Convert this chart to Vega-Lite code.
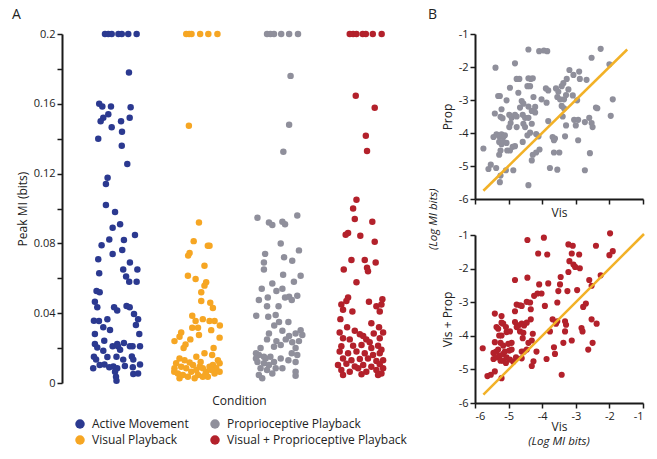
{
"$schema": "https://vega.github.io/schema/vega-lite/v6.json",
"autosize": {"type": "pad"},
"padding": {"left": 12, "top": 8, "right": 5, "bottom": 5},
"config": {
  "font": "Open Sans",
  "view": {"stroke": null},
  "axis": {"grid": false, "domainColor": "#1a1a1a", "domainWidth": 2, "tickColor": "#1a1a1a", "tickWidth": 1.5, "tickSize": 5, "labelFont": "Open Sans", "labelFontSize": 11, "labelColor": "#222", "titleFont": "Open Sans", "titleFontSize": 12, "titleFontWeight": "normal", "titleColor": "#222"},
  "title": {"font": "Open Sans", "fontWeight": "normal", "fontSize": 14, "color": "#222"}
},
"datasets": {
"strip": [
{"condition":"Active Movement","mi":0.2,"jitter":-0.48},{"condition":"Active Movement","mi":0.2,"jitter":-0.34},{"condition":"Active Movement","mi":0.2,"jitter":-0.2},{"condition":"Active Movement","mi":0.2,"jitter":0.08},{"condition":"Active Movement","mi":0.2,"jitter":0.22},{"condition":"Active Movement","mi":0.2,"jitter":0.49},{"condition":"Active Movement","mi":0.2,"jitter":0.84},
{"condition":"Active Movement","mi":0.178,"jitter":0.52},{"condition":"Active Movement","mi":0.160,"jitter":-0.72},{"condition":"Active Movement","mi":0.1585,"jitter":-0.59},{"condition":"Active Movement","mi":0.1585,"jitter":-0.23},{"condition":"Active Movement","mi":0.158,"jitter":0.59},{"condition":"Active Movement","mi":0.154,"jitter":-0.34},{"condition":"Active Movement","mi":0.152,"jitter":-0.55},{"condition":"Active Movement","mi":0.150,"jitter":-0.66},{"condition":"Active Movement","mi":0.150,"jitter":0.19},{"condition":"Active Movement","mi":0.152,"jitter":0.55},{"condition":"Active Movement","mi":0.1465,"jitter":-0.2},{"condition":"Active Movement","mi":0.144,"jitter":0.23},{"condition":"Active Movement","mi":0.140,"jitter":-0.76},{"condition":"Active Movement","mi":0.136,"jitter":0.22},{"condition":"Active Movement","mi":0.1255,"jitter":0.45},{"condition":"Active Movement","mi":0.1176,"jitter":-0.37},{"condition":"Active Movement","mi":0.114,"jitter":-0.44},{"condition":"Active Movement","mi":0.102,"jitter":-0.44},{"condition":"Active Movement","mi":0.098,"jitter":-0.06},{"condition":"Active Movement","mi":0.091,"jitter":0.15},{"condition":"Active Movement","mi":0.089,"jitter":-0.16},
{"condition":"Active Movement","mi":0.079,"jitter":-0.62},{"condition":"Active Movement","mi":0.0823,"jitter":-0.3},{"condition":"Active Movement","mi":0.082,"jitter":0.31},{"condition":"Active Movement","mi":0.0848,"jitter":0.77},{"condition":"Active Movement","mi":0.0739,"jitter":-0.16},{"condition":"Active Movement","mi":0.0762,"jitter":0.24},{"condition":"Active Movement","mi":0.0709,"jitter":-0.76},{"condition":"Active Movement","mi":0.069,"jitter":0.56},{"condition":"Active Movement","mi":0.0629,"jitter":-0.72},{"condition":"Active Movement","mi":0.065,"jitter":0.28},{"condition":"Active Movement","mi":0.065,"jitter":0.87},{"condition":"Active Movement","mi":0.061,"jitter":0.4},{"condition":"Active Movement","mi":0.058,"jitter":0.53},{"condition":"Active Movement","mi":0.058,"jitter":0.84},{"condition":"Active Movement","mi":0.0527,"jitter":-0.83},{"condition":"Active Movement","mi":0.052,"jitter":-0.7},{"condition":"Active Movement","mi":0.0466,"jitter":-0.9},{"condition":"Active Movement","mi":0.0434,"jitter":-0.8},{"condition":"Active Movement","mi":0.0434,"jitter":-0.1},{"condition":"Active Movement","mi":0.0415,"jitter":0.03},{"condition":"Active Movement","mi":0.0441,"jitter":0.42},{"condition":"Active Movement","mi":0.0434,"jitter":0.55},{"condition":"Active Movement","mi":0.0395,"jitter":0.73},{"condition":"Active Movement","mi":0.0357,"jitter":-0.94},{"condition":"Active Movement","mi":0.0355,"jitter":-0.73},{"condition":"Active Movement","mi":0.0365,"jitter":-0.38},{"condition":"Active Movement","mi":0.0319,"jitter":-0.55},{"condition":"Active Movement","mi":0.0304,"jitter":-0.27},{"condition":"Active Movement","mi":0.0365,"jitter":0.9},{"condition":"Active Movement","mi":0.0332,"jitter":0.81},{"condition":"Active Movement","mi":0.0281,"jitter":-0.9},{"condition":"Active Movement","mi":0.0281,"jitter":0.95},{"condition":"Active Movement","mi":0.0242,"jitter":-0.51},{"condition":"Active Movement","mi":0.0223,"jitter":0.03},{"condition":"Active Movement","mi":0.0229,"jitter":0.31},{"condition":"Active Movement","mi":0.0223,"jitter":-0.9},{"condition":"Active Movement","mi":0.0204,"jitter":-0.8},{"condition":"Active Movement","mi":0.021,"jitter":-0.16},{"condition":"Active Movement","mi":0.021,"jitter":0.06},{"condition":"Active Movement","mi":0.019,"jitter":0.15},{"condition":"Active Movement","mi":0.021,"jitter":0.56},{"condition":"Active Movement","mi":0.021,"jitter":0.67},{"condition":"Active Movement","mi":0.021,"jitter":0.98},{"condition":"Active Movement","mi":0.0185,"jitter":-0.55},{"condition":"Active Movement","mi":0.015,"jitter":-0.94},{"condition":"Active Movement","mi":0.0149,"jitter":-0.38},{"condition":"Active Movement","mi":0.015,"jitter":0.0},{"condition":"Active Movement","mi":0.0152,"jitter":0.64},{"condition":"Active Movement","mi":0.0135,"jitter":-0.85},{"condition":"Active Movement","mi":0.0134,"jitter":0.28},{"condition":"Active Movement","mi":0.0134,"jitter":0.7},{"condition":"Active Movement","mi":0.0103,"jitter":-0.7},{"condition":"Active Movement","mi":0.0106,"jitter":-0.5},{"condition":"Active Movement","mi":0.0094,"jitter":-0.13},{"condition":"Active Movement","mi":0.0085,"jitter":0.03},{"condition":"Active Movement","mi":0.0097,"jitter":0.35},{"condition":"Active Movement","mi":0.0106,"jitter":0.98},{"condition":"Active Movement","mi":0.0085,"jitter":-0.97},{"condition":"Active Movement","mi":0.0065,"jitter":-0.06},{"condition":"Active Movement","mi":0.0052,"jitter":0.7},{"condition":"Active Movement","mi":0.0055,"jitter":0.9},{"condition":"Active Movement","mi":0.0036,"jitter":-0.02},{"condition":"Active Movement","mi":0.0013,"jitter":0.0},{"condition":"Active Movement","mi":0.009,"jitter":-0.3},{"condition":"Active Movement","mi":0.009,"jitter":0.68},
{"condition":"Visual Playback","mi":0.2,"jitter":-0.5},{"condition":"Visual Playback","mi":0.2,"jitter":-0.38},{"condition":"Visual Playback","mi":0.2,"jitter":-0.28},{"condition":"Visual Playback","mi":0.2,"jitter":0.08},{"condition":"Visual Playback","mi":0.2,"jitter":0.42},{"condition":"Visual Playback","mi":0.2,"jitter":0.8},
{"condition":"Visual Playback","mi":0.1474,"jitter":-0.39},{"condition":"Visual Playback","mi":0.092,"jitter":0.03},{"condition":"Visual Playback","mi":0.0813,"jitter":-0.19},{"condition":"Visual Playback","mi":0.0787,"jitter":0.4},{"condition":"Visual Playback","mi":0.0787,"jitter":0.47},{"condition":"Visual Playback","mi":0.0745,"jitter":-0.36},{"condition":"Visual Playback","mi":0.073,"jitter":-0.42},{"condition":"Visual Playback","mi":0.0672,"jitter":0.26},{"condition":"Visual Playback","mi":0.0615,"jitter":-0.43},{"condition":"Visual Playback","mi":0.0596,"jitter":-0.11},{"condition":"Visual Playback","mi":0.0577,"jitter":0.33},{"condition":"Visual Playback","mi":0.0558,"jitter":0.26},{"condition":"Visual Playback","mi":0.052,"jitter":0.125},{"condition":"Visual Playback","mi":0.047,"jitter":0.125},{"condition":"Visual Playback","mi":0.046,"jitter":0.5},{"condition":"Visual Playback","mi":0.043,"jitter":0.61},{"condition":"Visual Playback","mi":0.0385,"jitter":-0.25},{"condition":"Visual Playback","mi":0.0355,"jitter":-0.11},{"condition":"Visual Playback","mi":0.0366,"jitter":0.19},{"condition":"Visual Playback","mi":0.0355,"jitter":0.47},{"condition":"Visual Playback","mi":0.0355,"jitter":0.68},{"condition":"Visual Playback","mi":0.033,"jitter":0.9},{"condition":"Visual Playback","mi":0.0317,"jitter":-0.25},{"condition":"Visual Playback","mi":0.0317,"jitter":-0.01},{"condition":"Visual Playback","mi":0.0303,"jitter":0.54},{"condition":"Visual Playback","mi":0.029,"jitter":-0.71},{"condition":"Visual Playback","mi":0.0265,"jitter":-0.78},{"condition":"Visual Playback","mi":0.0275,"jitter":0.03},{"condition":"Visual Playback","mi":0.026,"jitter":0.89},{"condition":"Visual Playback","mi":0.025,"jitter":-0.33},{"condition":"Visual Playback","mi":0.022,"jitter":-0.53},{"condition":"Visual Playback","mi":0.024,"jitter":-0.99},{"condition":"Visual Playback","mi":0.020,"jitter":-0.61},{"condition":"Visual Playback","mi":0.020,"jitter":0.64},{"condition":"Visual Playback","mi":0.017,"jitter":0.26},{"condition":"Visual Playback","mi":0.016,"jitter":0.58},{"condition":"Visual Playback","mi":0.015,"jitter":-0.08},
{"condition":"Visual Playback","mi":0.014,"jitter":-0.78},{"condition":"Visual Playback","mi":0.013,"jitter":-0.57},{"condition":"Visual Playback","mi":0.0113,"jitter":-0.92},{"condition":"Visual Playback","mi":0.0118,"jitter":-0.36},{"condition":"Visual Playback","mi":0.0093,"jitter":-0.71},{"condition":"Visual Playback","mi":0.0084,"jitter":-0.99},{"condition":"Visual Playback","mi":0.0084,"jitter":-0.5},{"condition":"Visual Playback","mi":0.0103,"jitter":-0.22},{"condition":"Visual Playback","mi":0.0055,"jitter":-0.85},{"condition":"Visual Playback","mi":0.0046,"jitter":-0.64},{"condition":"Visual Playback","mi":0.0065,"jitter":-0.29},{"condition":"Visual Playback","mi":0.0074,"jitter":-0.08},{"condition":"Visual Playback","mi":0.0093,"jitter":0.06},{"condition":"Visual Playback","mi":0.0084,"jitter":0.19},{"condition":"Visual Playback","mi":0.0065,"jitter":0.33},{"condition":"Visual Playback","mi":0.0093,"jitter":0.47},{"condition":"Visual Playback","mi":0.0103,"jitter":0.61},{"condition":"Visual Playback","mi":0.0084,"jitter":0.75},{"condition":"Visual Playback","mi":0.0113,"jitter":0.89},{"condition":"Visual Playback","mi":0.0046,"jitter":-0.01},{"condition":"Visual Playback","mi":0.0036,"jitter":0.19},{"condition":"Visual Playback","mi":0.0036,"jitter":0.4},{"condition":"Visual Playback","mi":0.0055,"jitter":0.68},{"condition":"Visual Playback","mi":0.0065,"jitter":0.89},{"condition":"Visual Playback","mi":0.0036,"jitter":-0.43},{"condition":"Visual Playback","mi":0.0027,"jitter":-0.78},{"condition":"Visual Playback","mi":0.0027,"jitter":-0.15},{"condition":"Visual Playback","mi":0.013,"jitter":0.82},{"condition":"Visual Playback","mi":0.0065,"jitter":-1.0},{"condition":"Visual Playback","mi":0.012,"jitter":0.1},{"condition":"Visual Playback","mi":0.0075,"jitter":0.55},{"condition":"Visual Playback","mi":0.005,"jitter":0.3},
{"condition":"Proprioceptive Playback","mi":0.2,"jitter":-0.54},{"condition":"Proprioceptive Playback","mi":0.2,"jitter":-0.4},{"condition":"Proprioceptive Playback","mi":0.2,"jitter":-0.25},{"condition":"Proprioceptive Playback","mi":0.2,"jitter":0.05},{"condition":"Proprioceptive Playback","mi":0.2,"jitter":0.38},{"condition":"Proprioceptive Playback","mi":0.2,"jitter":0.75},
{"condition":"Proprioceptive Playback","mi":0.176,"jitter":0.44},{"condition":"Proprioceptive Playback","mi":0.148,"jitter":0.38},{"condition":"Proprioceptive Playback","mi":0.1325,"jitter":0.14},{"condition":"Proprioceptive Playback","mi":0.0947,"jitter":-0.94},{"condition":"Proprioceptive Playback","mi":0.092,"jitter":-0.46},{"condition":"Proprioceptive Playback","mi":0.0905,"jitter":-0.32},{"condition":"Proprioceptive Playback","mi":0.0924,"jitter":0.1},{"condition":"Proprioceptive Playback","mi":0.091,"jitter":0.21},{"condition":"Proprioceptive Playback","mi":0.096,"jitter":0.72},{"condition":"Proprioceptive Playback","mi":0.080,"jitter":0.03},{"condition":"Proprioceptive Playback","mi":0.074,"jitter":-0.62},{"condition":"Proprioceptive Playback","mi":0.076,"jitter":0.79},{"condition":"Proprioceptive Playback","mi":0.072,"jitter":0.17},{"condition":"Proprioceptive Playback","mi":0.070,"jitter":0.51},{"condition":"Proprioceptive Playback","mi":0.069,"jitter":-0.67},{"condition":"Proprioceptive Playback","mi":0.065,"jitter":-0.67},{"condition":"Proprioceptive Playback","mi":0.062,"jitter":0.13},{"condition":"Proprioceptive Playback","mi":0.0615,"jitter":0.86},{"condition":"Proprioceptive Playback","mi":0.058,"jitter":0.58},{"condition":"Proprioceptive Playback","mi":0.057,"jitter":-0.32},{"condition":"Proprioceptive Playback","mi":0.054,"jitter":-0.76},{"condition":"Proprioceptive Playback","mi":0.0527,"jitter":-0.15},{"condition":"Proprioceptive Playback","mi":0.054,"jitter":0.1},{"condition":"Proprioceptive Playback","mi":0.0475,"jitter":-0.88},{"condition":"Proprioceptive Playback","mi":0.049,"jitter":-0.51},{"condition":"Proprioceptive Playback","mi":0.049,"jitter":0.21},{"condition":"Proprioceptive Playback","mi":0.0494,"jitter":0.38},{"condition":"Proprioceptive Playback","mi":0.0475,"jitter":0.49},{"condition":"Proprioceptive Playback","mi":0.050,"jitter":0.72},{"condition":"Proprioceptive Playback","mi":0.044,"jitter":-0.54},{"condition":"Proprioceptive Playback","mi":0.044,"jitter":-0.06},{"condition":"Proprioceptive Playback","mi":0.0385,"jitter":-0.99},{"condition":"Proprioceptive Playback","mi":0.038,"jitter":-0.49},{"condition":"Proprioceptive Playback","mi":0.039,"jitter":-0.18},{"condition":"Proprioceptive Playback","mi":0.035,"jitter":-0.04},{"condition":"Proprioceptive Playback","mi":0.035,"jitter":0.35},{"condition":"Proprioceptive Playback","mi":0.033,"jitter":-0.24},{"condition":"Proprioceptive Playback","mi":0.0303,"jitter":0.86},{"condition":"Proprioceptive Playback","mi":0.0284,"jitter":0.65},{"condition":"Proprioceptive Playback","mi":0.0275,"jitter":0.93},{"condition":"Proprioceptive Playback","mi":0.0284,"jitter":-0.46},{"condition":"Proprioceptive Playback","mi":0.030,"jitter":0.1},{"condition":"Proprioceptive Playback","mi":0.027,"jitter":0.38},{"condition":"Proprioceptive Playback","mi":0.025,"jitter":-0.54},{"condition":"Proprioceptive Playback","mi":0.024,"jitter":-0.15},{"condition":"Proprioceptive Playback","mi":0.025,"jitter":0.24},{"condition":"Proprioceptive Playback","mi":0.0233,"jitter":0.51},{"condition":"Proprioceptive Playback","mi":0.024,"jitter":0.79},{"condition":"Proprioceptive Playback","mi":0.020,"jitter":-0.81},{"condition":"Proprioceptive Playback","mi":0.0208,"jitter":-0.25},{"condition":"Proprioceptive Playback","mi":0.0218,"jitter":0.03},{"condition":"Proprioceptive Playback","mi":0.017,"jitter":0.49},{"condition":"Proprioceptive Playback","mi":0.016,"jitter":0.72},{"condition":"Proprioceptive Playback","mi":0.020,"jitter":0.65},{"condition":"Proprioceptive Playback","mi":0.017,"jitter":-1.0},{"condition":"Proprioceptive Playback","mi":0.016,"jitter":-0.88},{"condition":"Proprioceptive Playback","mi":0.014,"jitter":-1.0},{"condition":"Proprioceptive Playback","mi":0.015,"jitter":-0.67},{"condition":"Proprioceptive Playback","mi":0.014,"jitter":0.03},{"condition":"Proprioceptive Playback","mi":0.0131,"jitter":0.35},{"condition":"Proprioceptive Playback","mi":0.012,"jitter":0.65},{"condition":"Proprioceptive Playback","mi":0.012,"jitter":-0.94},{"condition":"Proprioceptive Playback","mi":0.0113,"jitter":-0.67},{"condition":"Proprioceptive Playback","mi":0.0103,"jitter":-0.46},{"condition":"Proprioceptive Playback","mi":0.012,"jitter":-0.25},{"condition":"Proprioceptive Playback","mi":0.0084,"jitter":-0.81},{"condition":"Proprioceptive Playback","mi":0.0074,"jitter":-0.54},{"condition":"Proprioceptive Playback","mi":0.0084,"jitter":-0.18},{"condition":"Proprioceptive Playback","mi":0.0084,"jitter":0.1},{"condition":"Proprioceptive Playback","mi":0.0065,"jitter":0.65},{"condition":"Proprioceptive Playback","mi":0.0042,"jitter":0.65},{"condition":"Proprioceptive Playback","mi":0.0046,"jitter":-0.88},{"condition":"Proprioceptive Playback","mi":0.0027,"jitter":-0.74},{"condition":"Proprioceptive Playback","mi":0.0055,"jitter":-0.32},{"condition":"Proprioceptive Playback","mi":0.014,"jitter":-0.6},{"condition":"Proprioceptive Playback","mi":0.015,"jitter":-0.4},
{"condition":"Visual + Proprioceptive Playback","mi":0.2,"jitter":-0.5},{"condition":"Visual + Proprioceptive Playback","mi":0.2,"jitter":-0.36},{"condition":"Visual + Proprioceptive Playback","mi":0.2,"jitter":-0.22},{"condition":"Visual + Proprioceptive Playback","mi":0.2,"jitter":0.04},{"condition":"Visual + Proprioceptive Playback","mi":0.2,"jitter":0.17},{"condition":"Visual + Proprioceptive Playback","mi":0.2,"jitter":0.46},{"condition":"Visual + Proprioceptive Playback","mi":0.2,"jitter":0.83},
{"condition":"Visual + Proprioceptive Playback","mi":0.1646,"jitter":-0.25},{"condition":"Visual + Proprioceptive Playback","mi":0.1577,"jitter":0.54},{"condition":"Visual + Proprioceptive Playback","mi":0.1417,"jitter":0.17},{"condition":"Visual + Proprioceptive Playback","mi":0.133,"jitter":0.22},{"condition":"Visual + Proprioceptive Playback","mi":0.105,"jitter":-0.22},{"condition":"Visual + Proprioceptive Playback","mi":0.1,"jitter":-0.36},{"condition":"Visual + Proprioceptive Playback","mi":0.094,"jitter":-0.29},{"condition":"Visual + Proprioceptive Playback","mi":0.0924,"jitter":0.44},{"condition":"Visual + Proprioceptive Playback","mi":0.086,"jitter":-0.57},{"condition":"Visual + Proprioceptive Playback","mi":0.085,"jitter":-0.67},{"condition":"Visual + Proprioceptive Playback","mi":0.0844,"jitter":-0.06},{"condition":"Visual + Proprioceptive Playback","mi":0.081,"jitter":0.54},{"condition":"Visual + Proprioceptive Playback","mi":0.0705,"jitter":-0.43},{"condition":"Visual + Proprioceptive Playback","mi":0.0705,"jitter":0.125},{"condition":"Visual + Proprioceptive Playback","mi":0.069,"jitter":0.58},{"condition":"Visual + Proprioceptive Playback","mi":0.065,"jitter":-0.75},{"condition":"Visual + Proprioceptive Playback","mi":0.066,"jitter":0.22},{"condition":"Visual + Proprioceptive Playback","mi":0.064,"jitter":0.26},{"condition":"Visual + Proprioceptive Playback","mi":0.0577,"jitter":-0.22},{"condition":"Visual + Proprioceptive Playback","mi":0.049,"jitter":-0.57},{"condition":"Visual + Proprioceptive Playback","mi":0.047,"jitter":-0.64},{"condition":"Visual + Proprioceptive Playback","mi":0.045,"jitter":-0.85},{"condition":"Visual + Proprioceptive Playback","mi":0.0466,"jitter":0.3},{"condition":"Visual + Proprioceptive Playback","mi":0.048,"jitter":0.86},{"condition":"Visual + Proprioceptive Playback","mi":0.044,"jitter":0.61},{"condition":"Visual + Proprioceptive Playback","mi":0.045,"jitter":0.82},{"condition":"Visual + Proprioceptive Playback","mi":0.041,"jitter":0.75},{"condition":"Visual + Proprioceptive Playback","mi":0.042,"jitter":-0.78},{"condition":"Visual + Proprioceptive Playback","mi":0.041,"jitter":-0.39},{"condition":"Visual + Proprioceptive Playback","mi":0.0366,"jitter":-0.89},{"condition":"Visual + Proprioceptive Playback","mi":0.0342,"jitter":0.4},{"condition":"Visual + Proprioceptive Playback","mi":0.032,"jitter":0.72},{"condition":"Visual + Proprioceptive Playback","mi":0.029,"jitter":0.89},{"condition":"Visual + Proprioceptive Playback","mi":0.032,"jitter":-0.61},{"condition":"Visual + Proprioceptive Playback","mi":0.029,"jitter":-0.92},{"condition":"Visual + Proprioceptive Playback","mi":0.030,"jitter":-0.29},{"condition":"Visual + Proprioceptive Playback","mi":0.028,"jitter":-0.08},{"condition":"Visual + Proprioceptive Playback","mi":0.027,"jitter":0.06},{"condition":"Visual + Proprioceptive Playback","mi":0.0284,"jitter":0.5},{"condition":"Visual + Proprioceptive Playback","mi":0.0256,"jitter":-0.78},{"condition":"Visual + Proprioceptive Playback","mi":0.025,"jitter":-0.5},{"condition":"Visual + Proprioceptive Playback","mi":0.025,"jitter":0.19},{"condition":"Visual + Proprioceptive Playback","mi":0.0233,"jitter":0.33},{"condition":"Visual + Proprioceptive Playback","mi":0.0256,"jitter":0.75},{"condition":"Visual + Proprioceptive Playback","mi":0.021,"jitter":-0.85},{"condition":"Visual + Proprioceptive Playback","mi":0.0214,"jitter":-0.36},{"condition":"Visual + Proprioceptive Playback","mi":0.0218,"jitter":-0.01},{"condition":"Visual + Proprioceptive Playback","mi":0.020,"jitter":0.4},{"condition":"Visual + Proprioceptive Playback","mi":0.0214,"jitter":0.68},{"condition":"Visual + Proprioceptive Playback","mi":0.019,"jitter":0.82},
{"condition":"Visual + Proprioceptive Playback","mi":0.018,"jitter":-0.92},{"condition":"Visual + Proprioceptive Playback","mi":0.017,"jitter":-0.57},{"condition":"Visual + Proprioceptive Playback","mi":0.018,"jitter":-0.22},{"condition":"Visual + Proprioceptive Playback","mi":0.017,"jitter":0.125},{"condition":"Visual + Proprioceptive Playback","mi":0.016,"jitter":0.47},{"condition":"Visual + Proprioceptive Playback","mi":0.017,"jitter":0.75},
{"condition":"Visual + Proprioceptive Playback","mi":0.014,"jitter":-0.78},{"condition":"Visual + Proprioceptive Playback","mi":0.013,"jitter":-0.43},{"condition":"Visual + Proprioceptive Playback","mi":0.0137,"jitter":-0.08},{"condition":"Visual + Proprioceptive Playback","mi":0.014,"jitter":0.26},{"condition":"Visual + Proprioceptive Playback","mi":0.0126,"jitter":0.61},{"condition":"Visual + Proprioceptive Playback","mi":0.013,"jitter":0.89},
{"condition":"Visual + Proprioceptive Playback","mi":0.0103,"jitter":-0.99},{"condition":"Visual + Proprioceptive Playback","mi":0.011,"jitter":-0.64},{"condition":"Visual + Proprioceptive Playback","mi":0.0095,"jitter":-0.29},{"condition":"Visual + Proprioceptive Playback","mi":0.0103,"jitter":0.06},{"condition":"Visual + Proprioceptive Playback","mi":0.0093,"jitter":0.4},{"condition":"Visual + Proprioceptive Playback","mi":0.0108,"jitter":0.75},{"condition":"Visual + Proprioceptive Playback","mi":0.0084,"jitter":0.89},
{"condition":"Visual + Proprioceptive Playback","mi":0.0074,"jitter":-0.85},{"condition":"Visual + Proprioceptive Playback","mi":0.0065,"jitter":-0.5},{"condition":"Visual + Proprioceptive Playback","mi":0.0084,"jitter":-0.15},{"condition":"Visual + Proprioceptive Playback","mi":0.0065,"jitter":0.19},{"condition":"Visual + Proprioceptive Playback","mi":0.0074,"jitter":0.61},{"condition":"Visual + Proprioceptive Playback","mi":0.0055,"jitter":0.82},
{"condition":"Visual + Proprioceptive Playback","mi":0.0046,"jitter":-0.78},{"condition":"Visual + Proprioceptive Playback","mi":0.005,"jitter":-0.01},{"condition":"Visual + Proprioceptive Playback","mi":0.0046,"jitter":0.68}
],
"vp": [
{"vis":-5.75,"prop":-4.47},{"vis":-5.60,"prop":-5.09},{"vis":-5.53,"prop":-4.96},{"vis":-5.37,"prop":-5.06},{"vis":-5.39,"prop":-2.02},{"vis":-5.26,"prop":-5.49},{"vis":-5.24,"prop":-5.29},{"vis":-5.08,"prop":-5.13},{"vis":-4.86,"prop":-5.13},{"vis":-5.31,"prop":-2.88},{"vis":-5.26,"prop":-2.88},{"vis":-5.41,"prop":-3.41},{"vis":-5.21,"prop":-3.28},{"vis":-5.24,"prop":-3.51},{"vis":-5.18,"prop":-3.55},{"vis":-5.06,"prop":-3.01},{"vis":-4.96,"prop":-2.63},{"vis":-4.81,"prop":-1.89},
{"vis":-5.45,"prop":-4.12},{"vis":-5.36,"prop":-4.04},{"vis":-5.28,"prop":-4.10},{"vis":-5.21,"prop":-4.04},{"vis":-5.16,"prop":-4.12},{"vis":-5.11,"prop":-4.07},{"vis":-5.28,"prop":-4.27},{"vis":-5.21,"prop":-4.34},{"vis":-5.16,"prop":-4.27},{"vis":-5.06,"prop":-4.30},{"vis":-5.24,"prop":-4.53},{"vis":-5.28,"prop":-4.66},{"vis":-5.04,"prop":-4.53},{"vis":-4.96,"prop":-4.53},{"vis":-4.88,"prop":-4.42},{"vis":-4.81,"prop":-4.40},
{"vis":-4.98,"prop":-3.45},{"vis":-4.91,"prop":-3.54},{"vis":-4.94,"prop":-3.70},{"vis":-4.98,"prop":-3.82},{"vis":-4.81,"prop":-3.45},{"vis":-4.76,"prop":-3.50},{"vis":-4.76,"prop":-2.36},{"vis":-4.68,"prop":-2.36},{"vis":-4.71,"prop":-2.78},{"vis":-4.61,"prop":-3.03},{"vis":-4.56,"prop":-3.11},{"vis":-4.66,"prop":-3.23},{"vis":-4.58,"prop":-3.45},{"vis":-4.51,"prop":-3.54},{"vis":-4.56,"prop":-3.72},{"vis":-4.51,"prop":-3.82},
{"vis":-4.41,"prop":-1.47},{"vis":-4.41,"prop":-2.34},{"vis":-4.34,"prop":-2.36},{"vis":-4.28,"prop":-2.34},{"vis":-4.44,"prop":-2.58},{"vis":-4.36,"prop":-2.58},{"vis":-4.41,"prop":-3.2},{"vis":-4.31,"prop":-3.33},{"vis":-4.41,"prop":-3.54},{"vis":-4.58,"prop":-4.27},{"vis":-4.44,"prop":-4.07},{"vis":-4.26,"prop":-2.91},{"vis":-4.21,"prop":-3.21},{"vis":-4.21,"prop":-3.38},{"vis":-4.31,"prop":-3.72},{"vis":-4.18,"prop":-4.03},{"vis":-4.11,"prop":-4.10},{"vis":-4.28,"prop":-4.66},{"vis":-4.18,"prop":-4.59},{"vis":-4.08,"prop":-4.50},{"vis":-4.31,"prop":-4.83},{"vis":-4.41,"prop":-5.58},
{"vis":-4.09,"prop":-1.52},{"vis":-3.95,"prop":-1.50},{"vis":-3.85,"prop":-1.52},{"vis":-4.02,"prop":-2.98},{"vis":-3.87,"prop":-3.08},{"vis":-3.89,"prop":-2.65},{"vis":-3.82,"prop":-2.71},{"vis":-3.82,"prop":-3.64},{"vis":-3.77,"prop":-5.06},{"vis":-3.59,"prop":-2.65},{"vis":-3.52,"prop":-2.75},{"vis":-3.55,"prop":-2.91},{"vis":-3.47,"prop":-2.98},{"vis":-3.42,"prop":-2.58},{"vis":-3.37,"prop":-2.49},{"vis":-3.27,"prop":-2.36},{"vis":-3.19,"prop":-2.09},{"vis":-3.29,"prop":-2.85},{"vis":-3.22,"prop":-2.68},{"vis":-3.35,"prop":-2.98},{"vis":-3.42,"prop":-3.18},{"vis":-3.35,"prop":-3.25},{"vis":-3.39,"prop":-3.50},{"vis":-3.29,"prop":-3.77},{"vis":-3.32,"prop":-4.10},
{"vis":-3.69,"prop":-4.12},{"vis":-3.62,"prop":-4.17},{"vis":-3.65,"prop":-4.22},{"vis":-3.65,"prop":-4.59},{"vis":-3.49,"prop":-4.59},{"vis":-3.55,"prop":-5.11},{"vis":-3.07,"prop":-2.24},{"vis":-2.90,"prop":-2.14},{"vis":-2.88,"prop":-2.36},{"vis":-2.68,"prop":-2.39},{"vis":-3.09,"prop":-2.86},{"vis":-2.96,"prop":-3.01},{"vis":-3.05,"prop":-3.60},{"vis":-2.93,"prop":-3.60},{"vis":-3.00,"prop":-3.77},{"vis":-2.93,"prop":-4.22},{"vis":-2.73,"prop":-3.67},{"vis":-2.60,"prop":-3.54},{"vis":-2.53,"prop":-3.70},{"vis":-2.50,"prop":-3.82},{"vis":-2.73,"prop":-5.13},{"vis":-2.58,"prop":-4.61},{"vis":-2.53,"prop":-1.72},{"vis":-2.40,"prop":-3.23},{"vis":-2.36,"prop":-3.25},{"vis":-2.26,"prop":-1.45},{"vis":-2.00,"prop":-1.92},{"vis":-1.96,"prop":-3.48},{"vis":-1.90,"prop":-2.98},{"vis":-4.36,"prop":-3.99},{"vis":-4.76,"prop":-3.82}
],
"vpLine": [{"vis":-5.75,"prop":-5.75},{"vis":-1.47,"prop":-1.47}],
"vvp": [
{"vis":-5.77,"visprop":-4.37},{"vis":-5.63,"visprop":-5.20},{"vis":-5.53,"visprop":-5.16},{"vis":-5.41,"visprop":-5.06},{"vis":-5.21,"visprop":-5.26},{"vis":-5.41,"visprop":-3.34},{"vis":-5.21,"visprop":-3.41},{"vis":-5.21,"visprop":-3.61},{"vis":-5.16,"visprop":-3.64},{"vis":-5.36,"visprop":-3.74},{"vis":-5.31,"visprop":-3.79},{"vis":-5.08,"visprop":-3.74},{"vis":-5.28,"visprop":-3.99},{"vis":-5.21,"visprop":-3.99},{"vis":-5.06,"visprop":-3.89},{"vis":-4.96,"visprop":-3.87},{"vis":-5.41,"visprop":-4.19},
{"vis":-5.24,"visprop":-4.21},{"vis":-5.16,"visprop":-4.29},{"vis":-5.01,"visprop":-4.24},{"vis":-4.91,"visprop":-4.21},{"vis":-5.45,"visprop":-4.51},{"vis":-5.37,"visprop":-4.47},{"vis":-5.31,"visprop":-4.41},{"vis":-5.26,"visprop":-4.59},{"vis":-5.16,"visprop":-4.54},{"vis":-5.11,"visprop":-4.47},{"vis":-4.98,"visprop":-4.44},{"vis":-4.91,"visprop":-4.41},{"vis":-5.45,"visprop":-4.69},{"vis":-5.36,"visprop":-4.64},{"vis":-5.24,"visprop":-4.74},{"vis":-5.16,"visprop":-4.74},{"vis":-5.06,"visprop":-4.64},{"vis":-4.96,"visprop":-4.71},{"vis":-5.08,"visprop":-4.81},{"vis":-4.86,"visprop":-4.77},{"vis":-4.78,"visprop":-4.64},
{"vis":-4.81,"visprop":-2.34},{"vis":-4.76,"visprop":-3.74},{"vis":-4.71,"visprop":-3.69},{"vis":-4.81,"visprop":-3.59},{"vis":-4.66,"visprop":-3.87},{"vis":-4.56,"visprop":-3.91},{"vis":-4.76,"visprop":-3.07},{"vis":-4.66,"visprop":-3.09},{"vis":-4.61,"visprop":-3.11},{"vis":-4.81,"visprop":-3.27},{"vis":-4.61,"visprop":-3.64},{"vis":-4.54,"visprop":-3.69},{"vis":-4.46,"visprop":-3.61},{"vis":-4.58,"visprop":-4.07},{"vis":-4.61,"visprop":-4.47},{"vis":-4.54,"visprop":-4.47},{"vis":-4.46,"visprop":-4.41},{"vis":-4.61,"visprop":-4.67},
{"vis":-4.44,"visprop":-1.15},{"vis":-4.44,"visprop":-2.27},{"vis":-4.46,"visprop":-2.99},{"vis":-4.36,"visprop":-3.01},{"vis":-4.34,"visprop":-3.21},{"vis":-4.34,"visprop":-3.51},{"vis":-4.41,"visprop":-4.21},{"vis":-4.31,"visprop":-4.14},{"vis":-4.28,"visprop":-3.94},{"vis":-4.26,"visprop":-4.76},{"vis":-4.31,"visprop":-4.90},{"vis":-4.17,"visprop":-4.47},
{"vis":-4.24,"visprop":-2.81},{"vis":-4.14,"visprop":-2.74},{"vis":-4.02,"visprop":-2.74},{"vis":-4.09,"visprop":-2.47},{"vis":-3.95,"visprop":-1.08},{"vis":-4.12,"visprop":-1.55},{"vis":-3.85,"visprop":-1.58},{"vis":-3.92,"visprop":-3.11},{"vis":-3.82,"visprop":-2.44},{"vis":-3.87,"visprop":-4.69},{"vis":-3.77,"visprop":-3.87},{"vis":-3.69,"visprop":-3.51},{"vis":-3.59,"visprop":-3.64},{"vis":-3.55,"visprop":-3.57},{"vis":-3.55,"visprop":-3.01},{"vis":-3.52,"visprop":-2.67},{"vis":-3.47,"visprop":-2.47},{"vis":-3.45,"visprop":-2.25},{"vis":-3.65,"visprop":-4.34},{"vis":-3.62,"visprop":-4.54},{"vis":-3.37,"visprop":-4.21},{"vis":-3.42,"visprop":-5.16},{"vis":-3.32,"visprop":-3.57},{"vis":-3.29,"visprop":-3.67},{"vis":-3.32,"visprop":-3.87},{"vis":-3.25,"visprop":-2.67},{"vis":-3.22,"visprop":-2.10},
{"vis":-3.22,"visprop":-1.28},{"vis":-3.09,"visprop":-1.32},{"vis":-3.12,"visprop":-1.55},{"vis":-2.90,"visprop":-1.58},{"vis":-3.19,"visprop":-1.78},{"vis":-3.07,"visprop":-1.88},{"vis":-3.02,"visprop":-1.95},{"vis":-2.88,"visprop":-1.99},{"vis":-2.96,"visprop":-2.64},{"vis":-3.12,"visprop":-4.14},{"vis":-2.83,"visprop":-3.77},{"vis":-2.80,"visprop":-3.87},{"vis":-2.78,"visprop":-3.14},{"vis":-2.70,"visprop":-3.04},{"vis":-2.63,"visprop":-4.41},{"vis":-2.50,"visprop":-4.21},{"vis":-2.60,"visprop":-2.34},{"vis":-2.53,"visprop":-2.51},{"vis":-2.40,"visprop":-1.32},{"vis":-2.53,"visprop":-3.51},{"vis":-2.38,"visprop":-3.64},{"vis":-2.26,"visprop":-2.20},{"vis":-2.00,"visprop":-1.60},{"vis":-1.90,"visprop":-1.48},{"vis":-1.98,"visprop":-0.95}
],
"vvpLine": [{"vis":-5.75,"visprop":-5.75},{"vis":-0.97,"visprop":-0.97}]
},
"bounds": "flush",
"spacing": 59,
"hconcat": [
{
  "width": 354,
  "height": 349,
  "title": {"text": "A", "anchor": "start", "frame": "group", "dx": -50, "offset": 6, "fontSize": 14},
  "data": {"name": "strip"},
  "mark": {"type": "circle", "size": 42, "opacity": 1},
  "encoding": {
    "x": {"field": "condition", "type": "nominal", "sort": ["Active Movement", "Visual Playback", "Proprioceptive Playback", "Visual + Proprioceptive Playback"], "scale": {"paddingInner": 0, "paddingOuter": 0.165}, "axis": {"title": "Condition", "labels": false, "ticks": false, "domain": false, "titlePadding": 12}},
    "xOffset": {"field": "jitter", "type": "quantitative", "scale": {"domain": [-1, 1], "range": [17, 65]}},
    "y": {"field": "mi", "type": "quantitative", "scale": {"domain": [0, 0.2], "nice": false}, "axis": {"title": "Peak MI (bits)", "values": [0, 0.02, 0.04, 0.06, 0.08, 0.1, 0.12, 0.14, 0.16, 0.18, 0.2], "labelExpr": "round(datum.value * 100) % 4 == 0 ? format(datum.value, '~g') : ''"}},
    "color": {"field": "condition", "type": "nominal",
      "scale": {"domain": ["Active Movement", "Visual Playback", "Proprioceptive Playback", "Visual + Proprioceptive Playback"], "range": ["#2b3990", "#f6a623", "#8f8f9b", "#b3212b"]},
      "legend": {"orient": "none", "legendX": 12, "legendY": 384, "columns": 2, "title": null, "symbolType": "circle", "symbolSize": 90, "symbolOpacity": 1, "labelFontSize": 12, "labelFont": "Open Sans", "labelColor": "#222", "labelLimit": 400, "rowPadding": 4, "columnPadding": 20, "labelOffset": 6}}
  }
},
{
  "bounds": "flush",
  "spacing": 36,
  "title": {"text": "B", "anchor": "start", "frame": "group", "dx": -47, "offset": 6, "fontSize": 14},
  "vconcat": [
    {
      "width": 168,
      "height": 165,
      "title": {"text": "(Log MI bits)", "orient": "left", "anchor": "start", "frame": "group", "fontStyle": "italic", "fontSize": 11.5, "offset": 2, "dx": -51},
      "encoding": {
        "x": {"field": "vis", "type": "quantitative", "scale": {"domain": [-6, -1], "nice": false, "zero": false}, "axis": {"title": "Vis", "labels": false, "values": [-6, -5, -4, -3, -2, -1], "titlePadding": 3}},
        "y": {"field": "prop", "type": "quantitative", "scale": {"domain": [-6, -1], "nice": false, "zero": false}, "axis": {"title": "Prop", "values": [-6, -5, -4, -3, -2, -1], "labelExpr": "datum.value < 0 ? '-' + abs(datum.value) : datum.label"}}
      },
      "layer": [
        {"data": {"name": "vp"}, "mark": {"type": "circle", "size": 38, "opacity": 1, "color": "#8f8f9b"}},
        {"data": {"name": "vpLine"}, "mark": {"type": "line", "color": "#f2b127", "strokeWidth": 2.5}}
      ]
    },
    {
      "width": 168,
      "height": 168,
      "title": {"text": "(Log MI bits)", "orient": "bottom", "anchor": "middle", "fontStyle": "italic", "fontSize": 11.5, "offset": 4},
      "encoding": {
        "x": {"field": "vis", "type": "quantitative", "scale": {"domain": [-6, -1], "nice": false, "zero": false}, "axis": {"title": "Vis", "values": [-6, -5, -4, -3, -2, -1], "labelExpr": "datum.value < 0 ? '-' + abs(datum.value) : datum.label", "titlePadding": 0}},
        "y": {"field": "visprop", "type": "quantitative", "scale": {"domain": [-6, -1], "nice": false, "zero": false}, "axis": {"title": "Vis + Prop", "values": [-6, -5, -4, -3, -2, -1], "labelExpr": "datum.value < 0 ? '-' + abs(datum.value) : datum.label"}}
      },
      "layer": [
        {"data": {"name": "vvp"}, "mark": {"type": "circle", "size": 38, "opacity": 1, "color": "#b3212b"}},
        {"data": {"name": "vvpLine"}, "mark": {"type": "line", "color": "#f2b127", "strokeWidth": 2.5}}
      ]
    }
  ]
}
]
}
